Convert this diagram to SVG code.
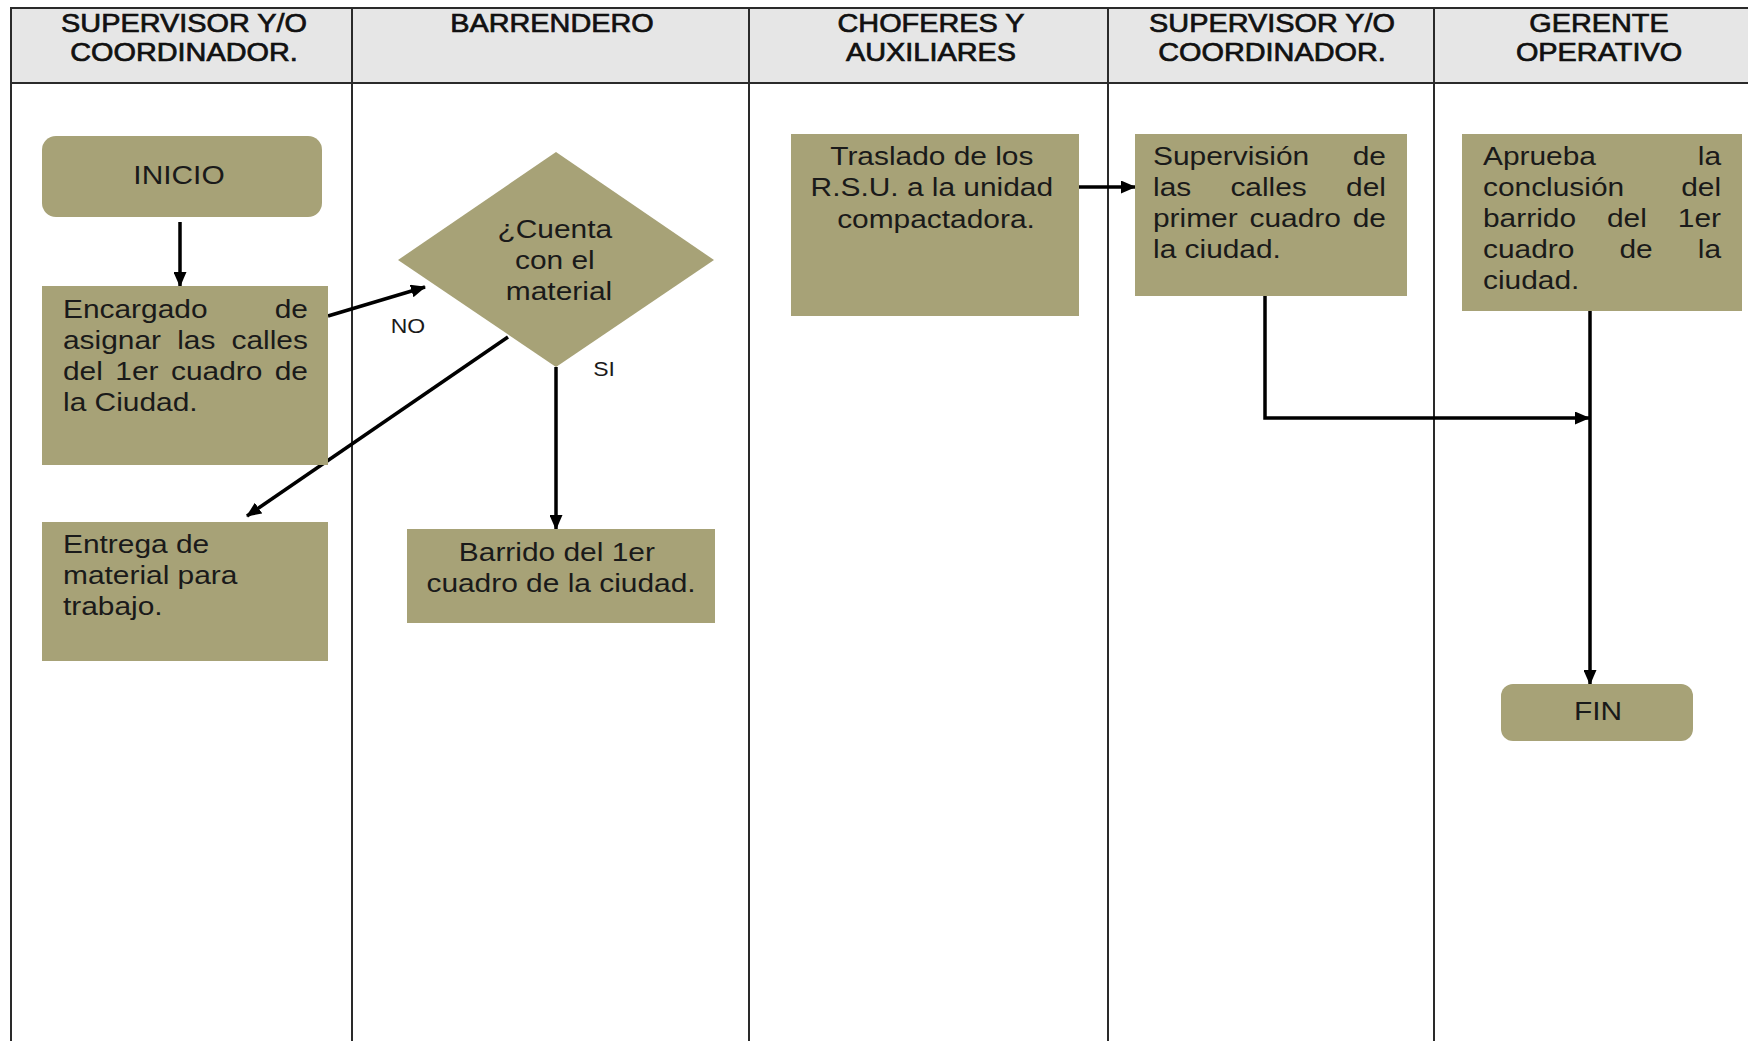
<svg xmlns="http://www.w3.org/2000/svg" width="1748" height="1041" viewBox="0 0 1748 1041">
<defs>
<style>
.grid{stroke:#2a2a2a;stroke-width:2;fill:none}
.hdr{fill:#e6e6e6}
.ht{font-family:"Liberation Sans",Arial,sans-serif;font-size:26px;fill:#111;stroke:#111;stroke-width:0.7;text-anchor:middle}
.box{fill:#a7a277}
.t{font-family:"Liberation Sans",Arial,sans-serif;font-size:26px;fill:#1a1a1a}
.c{text-anchor:middle}
.lbl{font-family:"Liberation Sans",Arial,sans-serif;font-size:20px;fill:#1a1a1a;text-anchor:middle}
.con{stroke:#000;stroke-width:3.5;fill:none}
</style>
<marker id="ah" markerWidth="15" markerHeight="13" refX="14" refY="6.5" orient="auto" markerUnits="userSpaceOnUse">
<path d="M0,0 L15,6.5 L0,13 z" fill="#000"/>
</marker>
</defs>
<rect width="1748" height="1041" fill="#fff"/>

<g id="table">
<rect class="hdr" x="11" y="8" width="1737" height="75"/>
<line class="grid" x1="11" y1="8" x2="1748" y2="8"/>
<line class="grid" x1="11" y1="83" x2="1748" y2="83"/>
<line class="grid" x1="11" y1="7" x2="11" y2="1041"/>
<line class="grid" x1="352" y1="7" x2="352" y2="1041"/>
<line class="grid" x1="749" y1="7" x2="749" y2="1041"/>
<line class="grid" x1="1108" y1="7" x2="1108" y2="1041"/>
<line class="grid" x1="1434" y1="7" x2="1434" y2="1041"/>
<text class="ht" transform="translate(184 0) scale(1.11 1)"><tspan x="0" y="32">SUPERVISOR Y/O</tspan><tspan x="0" y="61">COORDINADOR.</tspan></text>
<text class="ht" transform="translate(552 0) scale(1.11 1)"><tspan x="0" y="32">BARRENDERO</tspan></text>
<text class="ht" transform="translate(931 0) scale(1.11 1)"><tspan x="0" y="32">CHOFERES Y</tspan><tspan x="0" y="61">AUXILIARES</tspan></text>
<text class="ht" transform="translate(1272 0) scale(1.11 1)"><tspan x="0" y="32">SUPERVISOR Y/O</tspan><tspan x="0" y="61">COORDINADOR.</tspan></text>
<text class="ht" transform="translate(1599 0) scale(1.11 1)"><tspan x="0" y="32">GERENTE</tspan><tspan x="0" y="61">OPERATIVO</tspan></text>
</g>

<g id="connectors">
<line class="con" x1="180" y1="222" x2="180" y2="286" marker-end="url(#ah)"/>
<line class="con" x1="328" y1="316" x2="425" y2="287" stroke-width="3" marker-end="url(#ah)"/>
<line class="con" x1="508" y1="337" x2="247" y2="516" stroke-width="3" marker-end="url(#ah)"/>
<line class="con" x1="556" y1="367" x2="556" y2="529" marker-end="url(#ah)"/>
<line class="con" x1="1079" y1="187" x2="1135" y2="187" stroke-width="4" marker-end="url(#ah)"/>
<polyline class="con" points="1265,296 1265,418 1589,418" stroke-width="3" marker-end="url(#ah)"/>
<line class="con" x1="1590" y1="311" x2="1590" y2="684" stroke-width="4" marker-end="url(#ah)"/>
<text class="lbl" transform="translate(408 0) scale(1.15 1)" x="0" y="333">NO</text>
<text class="lbl" transform="translate(604 0) scale(1.15 1)" x="0" y="376">SI</text>
</g>

<g id="inicio">
<rect class="box" x="42" y="136" width="280" height="81" rx="14"/>
<text class="t c" transform="translate(179 0) scale(1.15 1)" x="0" y="184">INICIO</text>
</g>

<g id="encargado">
<rect class="box" x="42" y="286" width="286" height="179"/>
<text class="t" transform="translate(63 0) scale(1.15 1)">
<tspan x="0" y="318">Encargado</tspan><tspan x="184.1" y="318">de</tspan>
<tspan x="0" y="349">asignar</tspan><tspan x="99.3" y="349">las</tspan><tspan x="146.5" y="349">calles</tspan>
<tspan x="0" y="380">del</tspan><tspan x="45.5" y="380">1er</tspan><tspan x="93.9" y="380">cuadro</tspan><tspan x="184.1" y="380">de</tspan>
<tspan x="0" y="411">la Ciudad.</tspan>
</text>
</g>

<g id="entrega">
<rect class="box" x="42" y="522" width="286" height="139"/>
<text class="t" transform="translate(63 0) scale(1.15 1)">
<tspan x="0" y="553">Entrega de</tspan>
<tspan x="0" y="584">material para</tspan>
<tspan x="0" y="615">trabajo.</tspan>
</text>
</g>

<g id="decision">
<polygon class="box" points="556,152 714,260 556,367 398,260"/>
<text class="t c" transform="translate(559 0) scale(1.15 1)">
<tspan x="0" y="238">¿Cuenta</tspan>
<tspan x="0" y="269">con el</tspan>
<tspan x="0" y="300">material</tspan>
</text>
</g>

<g id="barrido">
<rect class="box" x="407" y="529" width="308" height="94"/>
<text class="t c" transform="translate(561 0) scale(1.15 1)">
<tspan x="0" y="561">Barrido del 1er</tspan>
<tspan x="0" y="592">cuadro de la ciudad.</tspan>
</text>
</g>

<g id="traslado">
<rect class="box" x="791" y="134" width="288" height="182"/>
<text class="t c" transform="translate(936 0) scale(1.15 1)">
<tspan x="0" y="165">Traslado de los</tspan>
<tspan x="0" y="196">R.S.U. a la unidad</tspan>
<tspan x="0" y="228">compactadora.</tspan>
</text>
</g>

<g id="supervision">
<rect class="box" x="1135" y="134" width="272" height="162"/>
<text class="t" transform="translate(1153 0) scale(1.15 1)">
<tspan x="0" y="165">Supervisión</tspan><tspan x="173.7" y="165">de</tspan>
<tspan x="0" y="196">las</tspan><tspan x="67.3" y="196">calles</tspan><tspan x="167.9" y="196">del</tspan>
<tspan x="0" y="227">primer</tspan><tspan x="83.9" y="227">cuadro</tspan><tspan x="173.7" y="227">de</tspan>
<tspan x="0" y="258">la ciudad.</tspan>
</text>
</g>

<g id="aprueba">
<rect class="box" x="1462" y="134" width="280" height="177"/>
<text class="t" transform="translate(1483 0) scale(1.15 1)">
<tspan x="0" y="165">Aprueba</tspan><tspan x="186.8" y="165">la</tspan>
<tspan x="0" y="196">conclusión</tspan><tspan x="172.3" y="196">del</tspan>
<tspan x="0" y="227">barrido</tspan><tspan x="107.8" y="227">del</tspan><tspan x="169.4" y="227">1er</tspan>
<tspan x="0" y="258">cuadro</tspan><tspan x="118.7" y="258">de</tspan><tspan x="186.8" y="258">la</tspan>
<tspan x="0" y="289">ciudad.</tspan>
</text>
</g>

<g id="fin">
<rect class="box" x="1501" y="684" width="192" height="57" rx="12"/>
<text class="t c" transform="translate(1598 0) scale(1.15 1)" x="0" y="720">FIN</text>
</g>
</svg>
